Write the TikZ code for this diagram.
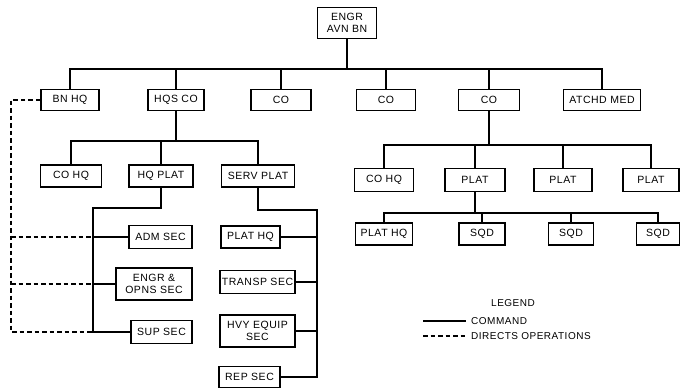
\documentclass[tikz,border=0pt]{standalone}
\usepackage{fontspec}
\setmainfont{Liberation Sans}[LetterSpace=5]
\begin{document}
\begin{tikzpicture}[x=1pt,y=-1pt,
  box/.style={draw, line width=1.1pt, inner sep=0pt, align=center,
    font=\fontsize{10.5}{12.5}\selectfont},
  cmd/.style={line width=1.6pt},
  ops/.style={line width=1.3pt, dash pattern=on 4.5pt off 3pt},
  legtext/.style={font=\fontsize{10}{11}\selectfont, inner sep=0pt}]
\useasboundingbox (0,0) rectangle (681,389);
% top
\node[box, minimum width=59pt, minimum height=31pt] (engr) at (347,23) {ENGR\\AVN BN};
% level 1
\node[box, minimum width=58pt, minimum height=21pt] (bnhq) at (70,100) {BN HQ};
\node[box, minimum width=56pt, minimum height=21pt] (hqs) at (176,100) {HQS CO};
\node[box, minimum width=60pt, minimum height=21pt] (co1) at (281,100) {CO};
\node[box, minimum width=59pt, minimum height=21pt] (co2) at (386,100) {CO};
\node[box, minimum width=61pt, minimum height=21pt] (co3) at (489,100) {CO};
\node[box, minimum width=77pt, minimum height=21pt] (atchd) at (602,100) {ATCHD MED};
% level 2 left
\node[box, minimum width=61pt, minimum height=22pt] (cohqa) at (71,176) {CO HQ};
\node[box, minimum width=64pt, minimum height=22pt] (hqplat) at (161,176) {HQ PLAT};
\node[box, minimum width=73pt, minimum height=22pt] (servplat) at (258,176) {SERV PLAT};
% level 2 right
\node[box, minimum width=59pt, minimum height=23pt] (cohqb) at (384,180) {CO HQ};
\node[box, minimum width=60pt, minimum height=23pt] (platA) at (475,180) {PLAT};
\node[box, minimum width=58pt, minimum height=23pt] (platB) at (563,180) {PLAT};
\node[box, minimum width=56pt, minimum height=23pt] (platC) at (651,180) {PLAT};
% level 3 right
\node[box, minimum width=57pt, minimum height=22pt] (plathqb) at (384,234) {PLAT HQ};
\node[box, minimum width=46pt, minimum height=22pt] (sqdA) at (482,234) {SQD};
\node[box, minimum width=45pt, minimum height=22pt] (sqdB) at (571,234) {SQD};
\node[box, minimum width=43pt, minimum height=22pt] (sqdC) at (658,234) {SQD};
% HQ PLAT sections
\node[box, minimum width=63pt, minimum height=23pt] (adm) at (160.5,237) {ADM SEC};
\node[box, minimum width=76pt, minimum height=32pt] (eo) at (154,284) {ENGR \&\\OPNS SEC};
\node[box, minimum width=61pt, minimum height=23pt] (sup) at (161.5,332) {SUP SEC};
% SERV PLAT sections
\node[box, minimum width=59pt, minimum height=22pt] (plathqa) at (250.5,237) {PLAT HQ};
\node[box, minimum width=75pt, minimum height=23pt] (transp) at (257.5,282) {TRANSP SEC};
\node[box, minimum width=75pt, minimum height=32pt] (hvy) at (257.5,331) {HVY EQUIP\\SEC};
\node[box, minimum width=61pt, minimum height=21pt] (rep) at (249.5,377) {REP SEC};

% coordinates
\coordinate (bus1) at (347,69);
\coordinate (bus2) at (176,141);
\coordinate (bus3) at (489,145);
\coordinate (bus4) at (475,213);
\coordinate (t1) at (93,208);
\coordinate (t2) at (317,210);
\coordinate (d0) at (11,100);

% command lines
\draw[cmd] (engr.south) -- (bus1);
\draw[cmd] (bnhq.north) -- (bnhq.north |- bus1) -- (atchd.north |- bus1) -- (atchd.north);
\foreach \n in {hqs,co1,co2,co3} \draw[cmd] (\n.north) -- (\n.north |- bus1);

\draw[cmd] (hqs.south) -- (bus2);
\draw[cmd] (cohqa.north) -- (cohqa.north |- bus2) -- (servplat.north |- bus2) -- (servplat.north);
\draw[cmd] (hqplat.north) -- (hqplat.north |- bus2);

\draw[cmd] (co3.south) -- (bus3);
\draw[cmd] (cohqb.north) -- (cohqb.north |- bus3) -- (platC.north |- bus3) -- (platC.north);
\foreach \n in {platA,platB} \draw[cmd] (\n.north) -- (\n.north |- bus3);

\draw[cmd] (platA.south) -- (bus4);
\draw[cmd] (plathqb.north) -- (plathqb.north |- bus4) -- (sqdC.north |- bus4) -- (sqdC.north);
\foreach \n in {sqdA,sqdB} \draw[cmd] (\n.north) -- (\n.north |- bus4);

\draw[cmd] (hqplat.south) |- (t1) -- (t1 |- sup.west) -- (sup.west);
\draw[cmd] (t1 |- adm.west) -- (adm.west);
\draw[cmd] (t1 |- eo.west) -- (eo.west);

\draw[cmd] (servplat.south) |- (t2) -- (t2 |- rep.east) -- (rep.east);
\foreach \n in {plathqa,transp,hvy} \draw[cmd] (\n.east) -- (t2 |- \n.east);

% directs operations
\draw[ops] (bnhq.west) -- (d0) -- (d0 |- sup.west) -- (t1 |- sup.west);
\draw[ops] (d0 |- adm.west) -- (t1 |- adm.west);
\draw[ops] (d0 |- eo.west) -- (t1 |- eo.west);

% legend
\node[legtext] (leg) at (513,303) {LEGEND};
\coordinate (lc1) at (423,321);
\coordinate (lc2) at (466,321);
\coordinate (ld1) at (423,336);
\coordinate (ld2) at (466,336);
\node[legtext, anchor=west] (lcmd) at (471,321) {COMMAND};
\node[legtext, anchor=west] (lops) at (471,336) {DIRECTS OPERATIONS};
\draw[cmd, line width=1.3pt] (lc1) -- (lc2);
\draw[ops] (ld1) -- (ld2);
\end{tikzpicture}
\end{document}
